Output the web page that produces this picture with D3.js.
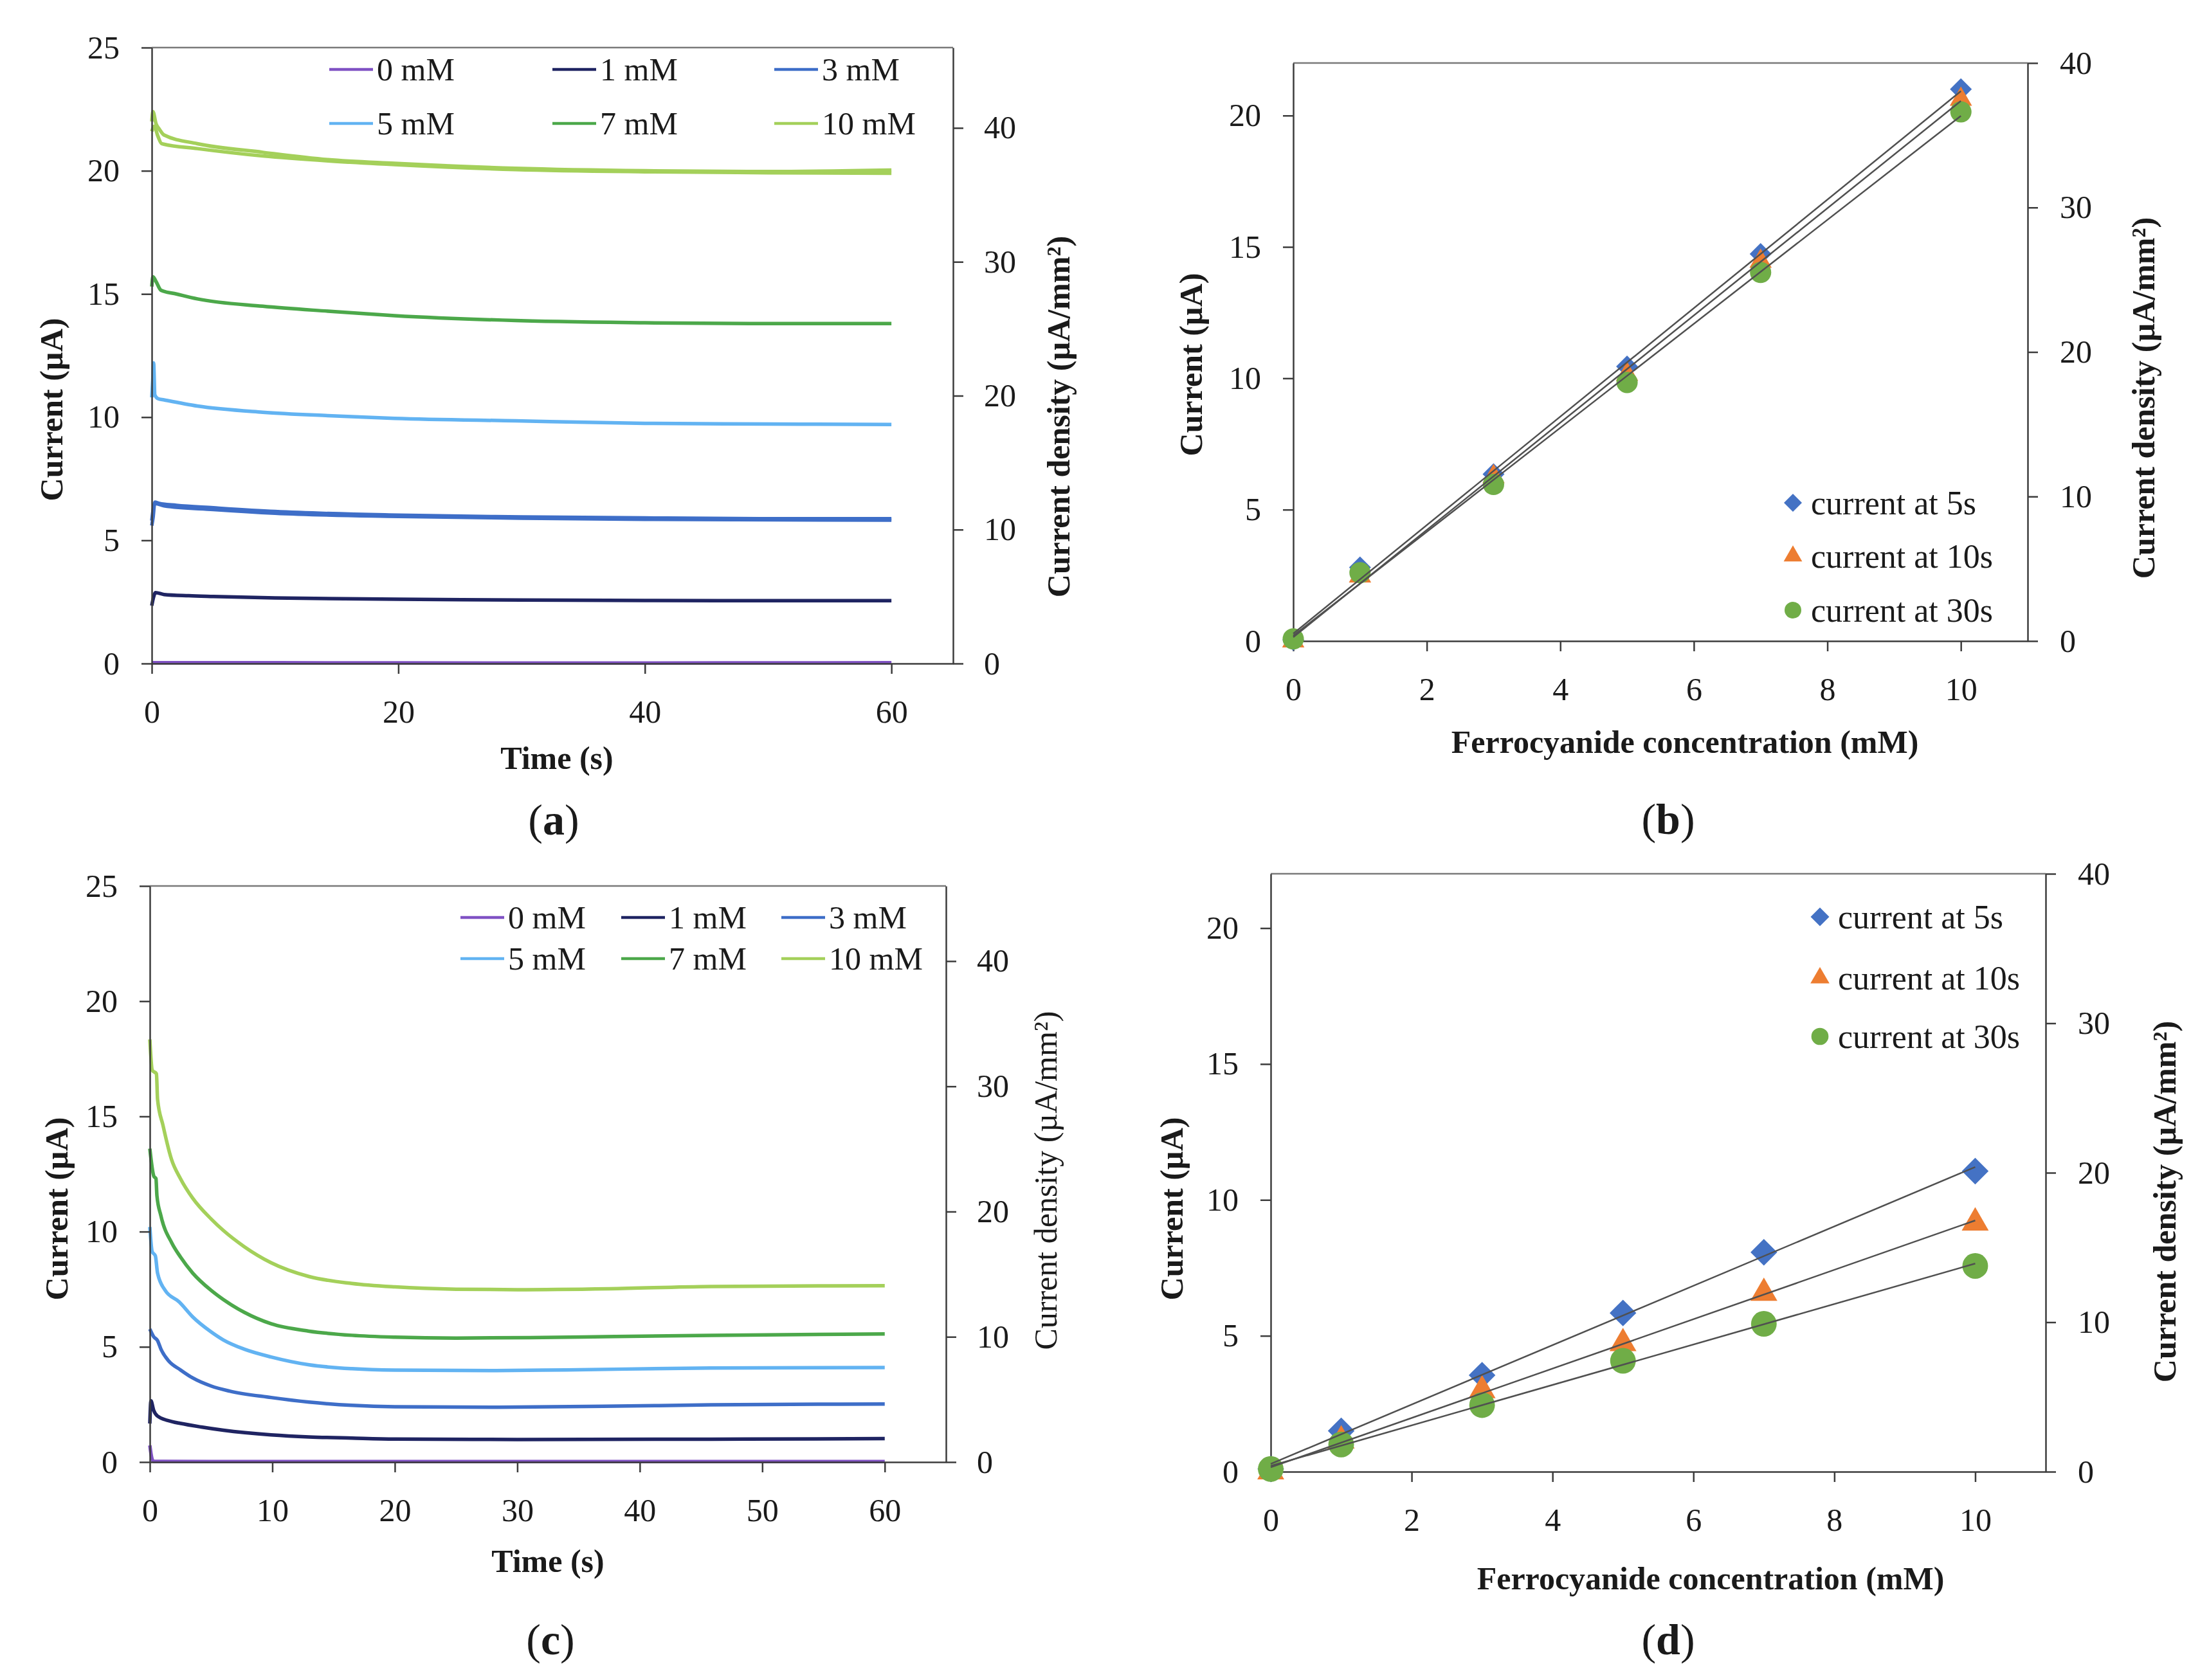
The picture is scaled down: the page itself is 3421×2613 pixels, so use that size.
<!DOCTYPE html>
<html>
<head>
<meta charset="utf-8">
<script src="https://cdn.jsdelivr.net/npm/d3@7"></script>
<style>
  body { margin: 0; background: #fff; }
  svg { display: block; }
  text { font-family: "Liberation Serif", "Times New Roman", serif; fill: #1a1a1a; }
</style>
</head>
<body>
<svg id="fig" width="3421" height="2613"></svg>
<script>

// === Data === //

var concLabels = ['0 mM', '1 mM', '3 mM', '5 mM', '7 mM', '10 mM'];
var concColors = ['#8052c4', '#1f2462', '#3e6ec8', '#62b3f2', '#4ca84a', '#a4d05a'];

// panel a : chronoamperometry, [time (s), current (uA)]
var a0 = [[0,0.03],[10,0.03],[30,0.02],[60,0.03]];
var a1 = [[0,2.35],[0.15,2.7],[0.3,2.88],[1,2.8],[3,2.75],[5,2.72],[10,2.66],[20,2.61],[30,2.58],[40,2.56],[50,2.55],[60,2.55]];
var a3 = [[0,5.6],[0.1,5.9],[0.25,6.55],[0.6,6.5],[2,6.42],[5,6.32],[10,6.17],[20,6.02],[30,5.95],[40,5.91],[50,5.88],[60,5.88]];
var a3b = [[0,5.8],[0.25,6.5],[1,6.4],[5,6.25],[10,6.1],[20,5.97],[30,5.9],[40,5.85],[60,5.82]];
var a5 = [[0,10.8],[0.08,11.5],[0.15,12.2],[0.25,10.9],[0.5,10.75],[1,10.7],[3.7,10.45],[9,10.2],[14.3,10.06],[19.7,9.95],[29.5,9.85],[40,9.75],[50,9.72],[60,9.7]];
var a7 = [[0,15.3],[0.1,15.7],[0.35,15.5],[0.75,15.15],[2,15.0],[3.7,14.8],[9,14.5],[14.3,14.3],[19.7,14.12],[29.5,13.92],[40,13.83],[50,13.8],[60,13.8]];
var a10 = [[0,22.0],[0.1,22.4],[0.35,21.9],[0.6,21.7],[1,21.45],[3.7,21.1],[9,20.75],[14.3,20.45],[19.7,20.3],[29.5,20.1],[40,20.0],[50,19.97],[60,20.03]];
var a10b = [[0,21.6],[0.2,21.8],[0.5,21.4],[0.8,21.1],[3.7,20.9],[9,20.6],[14.3,20.4],[19.7,20.25],[29.5,20.05],[40,19.96],[50,19.92],[60,19.9]];

// panel c
var c0 = [[0,0.72],[0.15,0.2],[0.3,0.03],[5,0.02],[30,0.02],[60,0.02]];
var c1 = [[0,1.67],[0.09,2.66],[0.31,2.25],[0.62,2.0],[1.86,1.75],[2.47,1.68],[4.2,1.52],[6,1.38],[9.9,1.18],[13,1.09],[16.5,1.04],[20,1.0],[30,0.98],[45.8,0.99],[60,1.02]];
var c3 = [[0,5.77],[0.31,5.44],[0.62,5.28],[0.93,4.87],[1.55,4.38],[2.5,4.0],[3.5,3.65],[5,3.3],[6.5,3.08],[9.9,2.8],[13,2.6],[16.5,2.46],[20,2.4],[28,2.38],[37,2.42],[45.8,2.48],[60,2.52]];
var c5 = [[0,10.2],[0.19,9.13],[0.45,8.95],[0.63,8.2],[1.24,7.46],[2.4,6.95],[3.5,6.3],[5,5.65],[6,5.3],[7.7,4.9],[9.9,4.56],[13,4.22],[16.5,4.05],[20,3.99],[28,3.97],[34,4.0],[45.8,4.08],[60,4.1]];
var c7 = [[0,13.6],[0.33,12.4],[0.5,12.3],[0.58,11.55],[0.9,10.7],[1.8,9.5],[2.5,8.9],[3.5,8.2],[5,7.45],[6,7.05],[7.7,6.5],[9.9,6.0],[13,5.68],[16.5,5.5],[20,5.42],[25,5.38],[31,5.4],[38,5.45],[45.8,5.5],[60,5.56]];
var c10 = [[0,18.34],[0.2,17.0],[0.54,16.85],[0.63,15.74],[1.07,14.62],[1.77,13.13],[2.5,12.3],[3.5,11.45],[5,10.55],[6,10.05],[7.7,9.35],[9.9,8.65],[13,8.05],[16.5,7.75],[20,7.6],[25,7.5],[30,7.48],[37.5,7.52],[45.8,7.62],[60,7.65]];

// panels b and d : current vs concentration
var conc = [0, 1, 3, 5, 7, 10];
var b5s = [0.04, 2.8, 6.35, 10.45, 14.73, 21.0];
var b10s = [0, 2.47, 6.25, 10.15, 14.45, 20.62];
var b30s = [0.08, 2.6, 5.96, 9.84, 14.03, 20.14];
var d5s = [0.1, 1.5, 3.55, 5.84, 8.07, 11.06];
var d10s = [0, 1.14, 2.99, 4.72, 6.57, 9.16];
var d30s = [0.1, 1.0, 2.45, 4.08, 5.44, 7.57];

var calLabels = ['current at 5s', 'current at 10s', 'current at 30s'];
var calColors = ['#4472c4', '#ed7d31', '#70ad47'];
var calShapes = ['diamond', 'triangle', 'circle'];

// tick values
var timeTicksA = [0, 20, 40, 60];
var timeTicksC = [0, 10, 20, 30, 40, 50, 60];
var currentTicks = [0, 5, 10, 15, 20, 25];
var currentTicksCal = [0, 5, 10, 15, 20];
var densityTicks = [0, 10, 20, 30, 40];
var concTicks = [0, 2, 4, 6, 8, 10];


// === Globals === //

var svg = d3.select('#fig');
svg.append('rect').attr('width', 3421).attr('height', 2613).attr('fill', '#fff');

var axisColor = '#3c3c3c';
var tickFont = 50;
var titleFont = 50;


// === helpers === //

function styleAxis(g) {
	g.select('.domain').attr('stroke', axisColor).attr('stroke-width', 2.5);
	g.selectAll('.tick line').attr('stroke', axisColor).attr('stroke-width', 2.5);
	g.selectAll('.tick text').attr('font-size', tickFont).attr('fill', '#1a1a1a')
		.attr('font-family', '"Liberation Serif", serif');
}

function vTitle(x, y, txt, bold) {
	svg.append('text')
		.attr('transform', 'translate(' + x + ',' + y + ') rotate(-90)')
		.attr('text-anchor', 'middle')
		.attr('dominant-baseline', 'central')
		.attr('font-size', titleFont)
		.attr('font-weight', bold ? 'bold' : 'normal')
		.text(txt);
}

function hTitle(x, y, txt) {
	svg.append('text')
		.attr('x', x).attr('y', y)
		.attr('text-anchor', 'middle')
		.attr('dominant-baseline', 'central')
		.attr('font-size', titleFont)
		.attr('font-weight', 'bold')
		.text(txt);
}

function panelLabel(x, y, letter) {
	var t = svg.append('text')
		.attr('x', x).attr('y', y)
		.attr('text-anchor', 'middle')
		.attr('dominant-baseline', 'central')
		.attr('font-size', 68);
	t.append('tspan').text('(');
	t.append('tspan').attr('font-weight', 'bold').text(letter);
	t.append('tspan').text(')');
}

function symbolPath(shape, size) {
	if (shape === 'diamond') return d3.symbol().type(d3.symbolSquare).size(size)();
	if (shape === 'triangle') return d3.symbol().type(d3.symbolTriangle).size(size)();
	return d3.symbol().type(d3.symbolCircle).size(size)();
}

function fitLine(xs, ys) {
	var mx = d3.mean(xs), my = d3.mean(ys);
	var sxy = d3.sum(xs, function(x, i) { return (x - mx) * (ys[i] - my); });
	var sxx = d3.sum(xs, function(x) { return (x - mx) * (x - mx); });
	var slope = sxy / sxx;
	return { slope: slope, icpt: my - slope * mx };
}


// === Time panels (a), (c) === //

function drawTimePanel(cfg) {

	var x = d3.scaleLinear().domain([0, 65]).range([cfg.left, cfg.right]);
	var y = d3.scaleLinear().domain([0, 25]).range([cfg.bottom, cfg.top]);
	var y2 = d3.scaleLinear().domain([0, cfg.densMax]).range([cfg.bottom, cfg.top]);

	// top frame line
	svg.append('line')
		.attr('x1', cfg.left).attr('x2', cfg.right)
		.attr('y1', cfg.top).attr('y2', cfg.top)
		.attr('stroke', '#7a7a7a').attr('stroke-width', 2.5);

	var line = d3.line()
		.x(function(d) { return x(d[0]); })
		.y(function(d) { return y(d[1]); })
		.curve(d3.curveMonotoneX);

	var g = svg.append('g');
	cfg.traces.forEach(function(tr) {
		g.append('path')
			.attr('d', line(tr.data))
			.attr('fill', 'none')
			.attr('stroke', concColors[tr.c])
			.attr('stroke-width', 5.5)
			.attr('stroke-linejoin', 'round');
	});

	svg.append('g').attr('transform', 'translate(0,' + cfg.bottom + ')')
		.call(d3.axisBottom(x).tickValues(cfg.xTicks).tickSize(16).tickPadding(40).tickSizeOuter(0))
		.call(styleAxis);

	svg.append('g').attr('transform', 'translate(' + cfg.left + ',0)')
		.call(d3.axisLeft(y).tickValues(currentTicks).tickSize(16).tickPadding(34).tickSizeOuter(0))
		.call(styleAxis);

	svg.append('g').attr('transform', 'translate(' + cfg.right + ',0)')
		.call(d3.axisRight(y2).tickValues(densityTicks).tickSize(16).tickPadding(32).tickSizeOuter(0))
		.call(styleAxis);

	// legend 3 x 2
	concLabels.forEach(function(lab, i) {
		var col = i % 3, row = Math.floor(i / 3);
		var lx = cfg.legX[col], ly = cfg.legY[row];
		svg.append('line')
			.attr('x1', lx).attr('x2', lx + 68)
			.attr('y1', ly).attr('y2', ly)
			.attr('stroke', concColors[i]).attr('stroke-width', 4.5);
		svg.append('text')
			.attr('x', lx + 74).attr('y', ly)
			.attr('dominant-baseline', 'central')
			.attr('font-size', 50)
			.text(lab);
	});

	hTitle(cfg.xTitle[0], cfg.xTitle[1], 'Time (s)');
	vTitle(cfg.yTitle[0], cfg.yTitle[1], 'Current (µA)', true);
	vTitle(cfg.y2Title[0], cfg.y2Title[1], 'Current density (µA/mm²)', cfg.y2Bold);
	panelLabel(cfg.label[0], cfg.label[1], cfg.letter);

} // drawTimePanel()


// === Calibration panels (b), (d) === //

function drawCalPanel(cfg) {

	var x = d3.scaleLinear().domain([0, 11]).range([cfg.left, cfg.right]);
	var y = d3.scaleLinear().domain([0, 22]).range([cfg.bottom, cfg.top]);
	var y2 = d3.scaleLinear().domain([0, 40]).range([cfg.bottom, cfg.top]);

	svg.append('line')
		.attr('x1', cfg.left).attr('x2', cfg.right)
		.attr('y1', cfg.top).attr('y2', cfg.top)
		.attr('stroke', '#7a7a7a').attr('stroke-width', 2.5);

	svg.append('g').attr('transform', 'translate(0,' + cfg.bottom + ')')
		.call(d3.axisBottom(x).tickValues(concTicks).tickSize(16).tickPadding(40).tickSizeOuter(0))
		.call(styleAxis);

	svg.append('g').attr('transform', 'translate(' + cfg.left + ',0)')
		.call(d3.axisLeft(y).tickValues(currentTicksCal).tickSize(16).tickPadding(34).tickSizeOuter(0))
		.call(styleAxis);

	svg.append('g').attr('transform', 'translate(' + cfg.right + ',0)')
		.call(d3.axisRight(y2).tickValues(densityTicks).tickSize(16).tickPadding(34).tickSizeOuter(0))
		.call(styleAxis);

	// markers
	cfg.series.forEach(function(vals, s) {
		svg.append('g').selectAll('path')
			.data(conc)
			.enter().append('path')
			.attr('d', symbolPath(calShapes[s], cfg.msize[s]))
			.attr('transform', function(c, i) {
				var rot = calShapes[s] === 'diamond' ? ' rotate(45)' : '';
				return 'translate(' + x(c) + ',' + y(vals[i]) + ')' + rot;
			})
			.attr('fill', calColors[s]);
	});

	// linear trendlines
	cfg.series.forEach(function(vals) {
		var f = fitLine(conc, vals);
		svg.append('line')
			.attr('x1', x(0)).attr('y1', y(f.icpt))
			.attr('x2', x(10)).attr('y2', y(f.icpt + f.slope * 10))
			.attr('stroke', '#505050').attr('stroke-width', 2.5);
	});

	// legend
	calLabels.forEach(function(lab, i) {
		var ly = cfg.legY[i];
		svg.append('path')
			.attr('d', symbolPath(calShapes[i], cfg.lsize[i]))
			.attr('transform', 'translate(' + cfg.legX + ',' + ly + ')' + (calShapes[i] === 'diamond' ? ' rotate(45)' : ''))
			.attr('fill', calColors[i]);
		svg.append('text')
			.attr('x', cfg.legX + 28).attr('y', ly)
			.attr('dominant-baseline', 'central')
			.attr('font-size', 52)
			.text(lab);
	});

	hTitle(cfg.xTitle[0], cfg.xTitle[1], 'Ferrocyanide concentration (mM)');
	vTitle(cfg.yTitle[0], cfg.yTitle[1], 'Current (µA)', true);
	vTitle(cfg.y2Title[0], cfg.y2Title[1], 'Current density (µA/mm²)', true);
	panelLabel(cfg.label[0], cfg.label[1], cfg.letter);

} // drawCalPanel()


// === Calls === //

drawTimePanel({
	left: 236, right: 1482, top: 74, bottom: 1032, densMax: 46,
	xTicks: timeTicksA,
	traces: [
		{ c: 0, data: a0 }, { c: 1, data: a1 }, { c: 2, data: a3b }, { c: 2, data: a3 },
		{ c: 3, data: a5 }, { c: 4, data: a7 }, { c: 5, data: a10b }, { c: 5, data: a10 }
	],
	legX: [512, 859, 1204], legY: [108, 192],
	xTitle: [866, 1179], yTitle: [80, 637], y2Title: [1646, 648], y2Bold: true,
	label: [861, 1275], letter: 'a'
});

drawTimePanel({
	left: 233, right: 1471, top: 1378, bottom: 2274, densMax: 46,
	xTicks: timeTicksC,
	traces: [
		{ c: 0, data: c0 }, { c: 1, data: c1 }, { c: 2, data: c3 },
		{ c: 3, data: c5 }, { c: 4, data: c7 }, { c: 5, data: c10 }
	],
	legX: [716, 966, 1215], legY: [1427, 1491],
	xTitle: [852, 2428], yTitle: [88, 1880], y2Title: [1626, 1836], y2Bold: false,
	label: [856, 2550], letter: 'c'
});

drawCalPanel({
	left: 2011, right: 3153, top: 98, bottom: 997,
	series: [b5s, b10s, b30s],
	msize: [578, 520, 860], lsize: [392, 360, 530],
	legX: 2788, legY: [782, 865, 949],
	xTitle: [2620, 1154], yTitle: [1852, 567], y2Title: [3333, 619],
	label: [2594, 1274], letter: 'b'
});

drawCalPanel({
	left: 1976, right: 3181, top: 1359, bottom: 2289,
	series: [d5s, d10s, d30s],
	msize: [860, 760, 1250], lsize: [420, 380, 560],
	legX: 2830, legY: [1426, 1521, 1612],
	xTitle: [2660, 2455], yTitle: [1822, 1880], y2Title: [3366, 1869],
	label: [2594, 2550], letter: 'd'
});

</script>
</body>
</html>
